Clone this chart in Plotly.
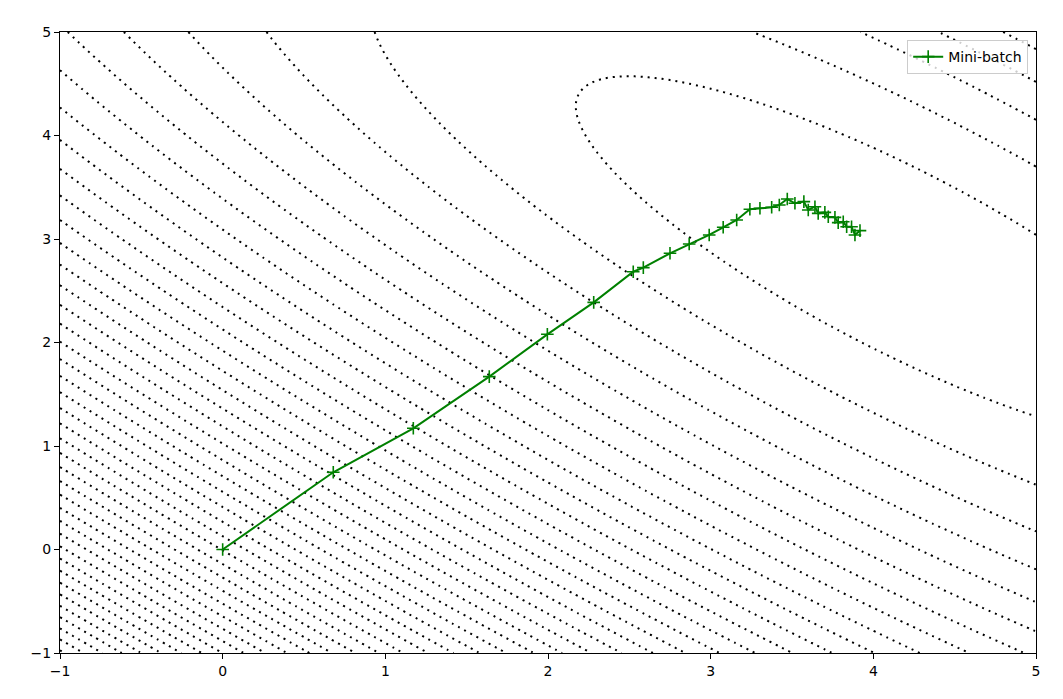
import numpy as np
import plotly.graph_objects as go

# ---- mini-batch path ----
path_x = [0.000, 0.680, 1.172, 1.639, 1.996, 2.281, 2.524, 2.586, 2.750, 2.868, 2.991, 3.077,
          3.160, 3.241, 3.303, 3.375, 3.422, 3.471, 3.518, 3.573, 3.600, 3.641, 3.661, 3.702,
          3.723, 3.764, 3.784, 3.815, 3.836, 3.866, 3.887, 3.918]
path_y = [0.000, 0.746, 1.171, 1.670, 2.079, 2.388, 2.684, 2.723, 2.862, 2.952, 3.039, 3.113,
          3.184, 3.287, 3.297, 3.307, 3.329, 3.386, 3.345, 3.361, 3.280, 3.312, 3.248, 3.257,
          3.215, 3.209, 3.158, 3.167, 3.119, 3.119, 3.039, 3.081]
series_name = "Mini-batch"

# ---- quadratic cost surface (coefficients estimated from the contour lines) ----
coef_a = 0.802      # x^2 weight
coef_b = 0.749      # cross-term weight
coef_c = 1.0        # y^2 weight
center_x = 4.15
center_y = 2.80
level_start = 0.944
level_step = 1.592
level_end = 90.0

tick_vals = [-1, 0, 1, 2, 3, 4, 5]
tick_text = ["\u22121", "0", "1", "2", "3", "4", "5"]

gx = np.linspace(-1, 5, 361)
gy = np.linspace(-1, 5, 361)
GX, GY = np.meshgrid(gx, gy)
dX, dY = GX - center_x, GY - center_y
Z = coef_a * dX**2 + 2 * coef_b * dX * dY + coef_c * dY**2

fig = go.Figure()
fig.add_trace(go.Contour(
    x=gx, y=gy, z=Z,
    contours=dict(start=level_start, end=level_end, size=level_step, coloring='none'),
    line=dict(color='black', width=2, dash='2px,5px', smoothing=1),
    showscale=False, showlegend=False, hoverinfo='skip'))
fig.add_trace(go.Scatter(
    x=path_x, y=path_y, mode='lines+markers', name=series_name,
    line=dict(color='#008000', width=2),
    marker=dict(symbol='cross-thin', size=9, color='#008000',
                line=dict(color='#008000', width=1.6))))

font = dict(family="DejaVu Sans", size=14, color='black')
axis_common = dict(range=[-1, 5], tickmode='array', tickvals=tick_vals, ticktext=tick_text,
                   showline=True, mirror=True, linecolor='black', linewidth=1.2,
                   ticks='outside', ticklen=5, tickwidth=1.2, tickcolor='black',
                   showgrid=False, zeroline=False, automargin=False, tickfont=font)
# the page body has an 8px margin; size/margins are set so the plot area lands on the reference's
fig.update_layout(
    width=1055, height=691,
    margin=dict(l=52, r=27, t=24, b=46),
    plot_bgcolor='white', paper_bgcolor='white',
    font=font,
    xaxis=axis_common,
    yaxis=axis_common,
    legend=dict(x=0.992, y=0.987, xanchor='right', yanchor='top',
                bgcolor='rgba(255,255,255,0.8)', bordercolor='#cccccc', borderwidth=1,
                font=font),
    showlegend=True)
fig.write_html("out.html")
